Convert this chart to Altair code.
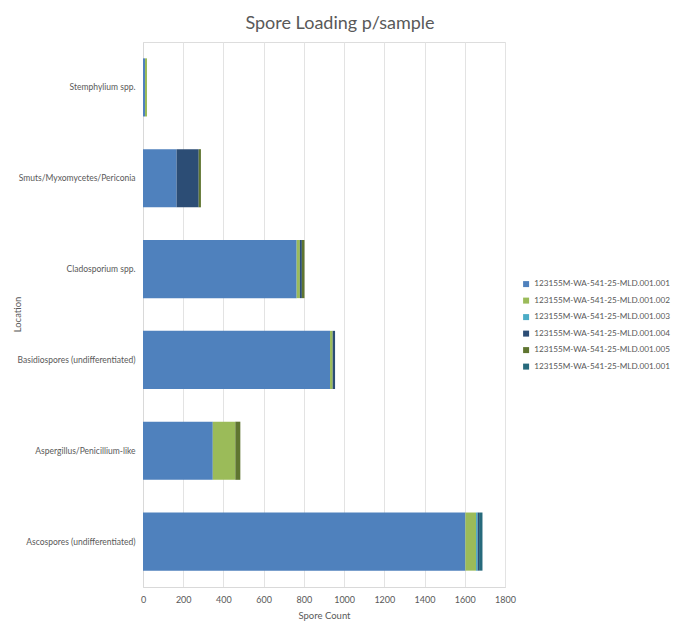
import altair as alt
import pandas as pd

categories = [
    "Stemphylium spp.",
    "Smuts/Myxomycetes/Periconia",
    "Cladosporium spp.",
    "Basidiospores (undifferentiated)",
    "Aspergillus/Penicillium-like",
    "Ascospores (undifferentiated)",
]
series_labels = [
    "123155M-WA-541-25-MLD.001.001",
    "123155M-WA-541-25-MLD.001.002",
    "123155M-WA-541-25-MLD.001.003",
    "123155M-WA-541-25-MLD.001.004",
    "123155M-WA-541-25-MLD.001.005",
    "123155M-WA-541-25-MLD.001.001",
]
series_keys = ["s1", "s2", "s3", "s4", "s5", "s6"]
colors = ["#4F81BD", "#9BBB59", "#4BACC6", "#2C4D75", "#5F7530", "#276A7C"]

s1 = [10, 167, 764, 930, 347, 1603]
s2 = [10, 0, 16, 13, 112, 53]
s3 = [0, 0, 0, 0, 0, 8]
s4 = [0, 110, 10, 12, 0, 7]
s5 = [0, 11, 13, 0, 25, 0]
s6 = [0, 0, 0, 0, 0, 17]

rows = []
for k, vals in enumerate([s1, s2, s3, s4, s5, s6]):
    for c, v in zip(categories, vals):
        rows.append({"Location": c, "series": series_keys[k], "order": k, "value": v})
df = pd.DataFrame(rows)

label_expr = "[" + ",".join("'%s'" % l for l in series_labels) + "][indexof(" + \
    "[" + ",".join("'%s'" % k for k in series_keys) + "], datum.label)]"

gray = "#595959"
chart = alt.Chart(df).mark_bar().encode(
    y=alt.Y("Location:N", sort=categories, title="Location",
            scale=alt.Scale(paddingInner=0.36, paddingOuter=0.18),
            axis=alt.Axis(labelFontSize=8.5, labelColor=gray, labelPadding=8,
                          ticks=False, domain=True, domainColor="#D9D9D9",
                          titleFontSize=9.5, titleFontWeight="normal", titleColor=gray,
                          titleX=-121, titleY=272, titleAngle=270, titleAlign="center",
                          labelLimit=200)),
    x=alt.X("value:Q", stack="zero", title="Spore Count",
            scale=alt.Scale(domain=[0, 1800], nice=False),
            axis=alt.Axis(values=list(range(0, 1801, 200)), format="d", labelFontSize=9,
                          labelColor=gray, ticks=False, domain=True,
                          domainColor="#D9D9D9", gridColor="#E3E3E3",
                          labelPadding=8, titleFontSize=9.5, titleFontWeight="normal",
                          titleColor=gray, titlePadding=6, labelFlush=False)),
    color=alt.Color("series:N", scale=alt.Scale(domain=series_keys, range=colors),
                    legend=alt.Legend(title=None, orient="none", legendX=379, legendY=238,
                                      labelExpr=label_expr, labelFontSize=8.2,
                                      labelColor=gray, symbolType="square",
                                      symbolSize=36, symbolStrokeWidth=0,
                                      labelOffset=4, rowPadding=7.5, labelLimit=300)),
    order=alt.Order("order:Q", sort="ascending"),
).properties(
    width=362, height=545,
    title=alt.TitleParams("Spore Loading p/sample", fontSize=18, fontWeight="normal",
                          color=gray, anchor="middle", frame="group", dx=16, offset=9),
    autosize=alt.AutoSizeParams(type="none"),
    padding={"left": 135, "top": 34, "right": 167, "bottom": 34},
).configure_view(stroke=None).configure(font="Lato")

chart.save("out.html", embed_options={"renderer": "svg", "actions": False})
